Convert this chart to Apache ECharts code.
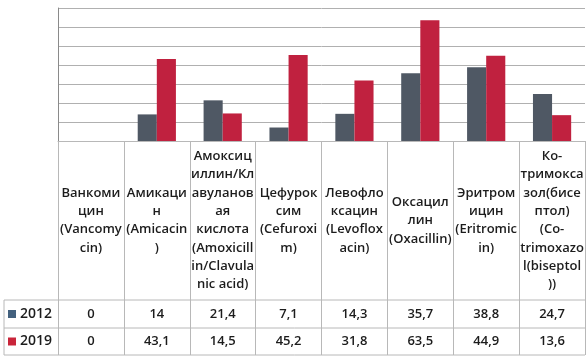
<!DOCTYPE html>
<html><head><meta charset="utf-8">
<script src="https://cdn.jsdelivr.net/npm/echarts@6/dist/echarts.min.js"></script>
<style>html,body{margin:0;padding:0;background:#fff}#c{width:587px;height:361px}</style>
</head><body><div id="c"></div>
<script>
const categories = [
  "Ванкоми\nцин\n(Vancomy\ncin)",
  "Амикаци\nн\n(Amicacin\n)",
  "Амоксиц\nиллин/Кл\nавуланов\nая\nкислота\n(Amoxicill\nin/Clavula\nnic acid)",
  "Цефурок\nсим\n(Cefuroxi\nm)",
  "Левофло\nксацин\n(Levoflox\nacin)",
  "Оксацил\nлин\n(Oxacillin)",
  "Эритром\nицин\n(Eritromic\nin)",
  "Ко-\nтримокса\nзол(бисе\nптол)\n(Co-\ntrimoxazo\nl(biseptol\n))"
];
const series2012 = [0, 14, 21.4, 7.1, 14.3, 35.7, 38.8, 24.7];
const series2019 = [0, 43.1, 14.5, 45.2, 31.8, 63.5, 44.9, 13.6];
const seriesNames = ["2012", "2019"];
const yMax = 70, yInterval = 10;

const fmt = v => String(v).replace('.', ',');
const FONT = '"Open Sans", sans-serif';
const TXT = '#1c1c1c';
const LINE = '#b8b8b8';
const C2012 = '#4f5864', C2019 = '#c0213f';
const K2012 = '#43617e', K2019 = '#c9253a';

const axisTop = 141, headerBottom = 300, row1Bottom = 328, row2Bottom = 355;
const gridLeft = 58, gridRight = 585;

const chart = echarts.init(document.getElementById('c'), null, {renderer: 'canvas'});
const valueAxis = (data, center) => ({
  type: 'category', gridIndex: 0, position: 'bottom', data: data.map(fmt),
  axisLine: {show: false}, axisTick: {show: false}, splitLine: {show: false},
  axisLabel: {interval: 0, margin: center - axisTop, verticalAlign: 'middle',
    fontFamily: FONT, fontSize: 13, fontWeight: 600, color: TXT}
});
chart.setOption({
  animation: false,
  grid: {left: gridLeft, right: 587 - gridRight, top: 8, bottom: 361 - axisTop, containLabel: false},
  xAxis: [
    {type: 'category', data: categories, position: 'bottom',
      axisLine: {show: true, lineStyle: {color: LINE, width: 1}},
      axisTick: {show: true, length: row2Bottom - axisTop, lineStyle: {color: LINE}},
      axisLabel: {interval: 0, margin: (headerBottom + axisTop) / 2 - axisTop, verticalAlign: 'middle',
        fontFamily: FONT, fontSize: 13, fontWeight: 600, color: TXT, lineHeight: 18.3, align: 'center'}},
    valueAxis(series2012, (headerBottom + row1Bottom) / 2),
    valueAxis(series2019, (row1Bottom + row2Bottom) / 2)
  ],
  yAxis: {type: 'value', min: 0, max: yMax, interval: yInterval,
    axisLine: {show: true, lineStyle: {color: '#8a8a8a'}}, axisTick: {show: false},
    axisLabel: {show: false}, splitLine: {lineStyle: {color: '#b0b0b0'}}},
  series: [
    {name: seriesNames[0], type: 'bar', data: series2012, barGap: '0%', barCategoryGap: '42%',
      itemStyle: {color: C2012}},
    {name: seriesNames[1], type: 'bar', data: series2019, barGap: '0%', barCategoryGap: '42%',
      itemStyle: {color: C2019}}
  ],
  graphic: [
    {type: 'line', shape: {x1: gridLeft, y1: headerBottom, x2: gridRight, y2: headerBottom}, style: {stroke: LINE}},
    {type: 'line', shape: {x1: 4, y1: headerBottom, x2: gridLeft, y2: headerBottom}, style: {stroke: LINE}},
    {type: 'line', shape: {x1: 4, y1: row1Bottom, x2: gridRight, y2: row1Bottom}, style: {stroke: LINE}},
    {type: 'line', shape: {x1: 4, y1: row2Bottom, x2: gridRight, y2: row2Bottom}, style: {stroke: LINE}},
    {type: 'line', shape: {x1: 4, y1: headerBottom, x2: 4, y2: row2Bottom}, style: {stroke: LINE}},
    {type: 'rect', shape: {x: 8, y: (headerBottom + row1Bottom) / 2 - 4, width: 8, height: 8}, style: {fill: K2012}},
    {type: 'rect', shape: {x: 8, y: (row1Bottom + row2Bottom) / 2 - 4, width: 8, height: 8}, style: {fill: K2019}},
    {type: 'text', x: 20, y: (headerBottom + row1Bottom) / 2, style: {text: seriesNames[0], font: '600 14px ' + FONT, fill: TXT, verticalAlign: 'middle'}},
    {type: 'text', x: 20, y: (row1Bottom + row2Bottom) / 2, style: {text: seriesNames[1], font: '600 14px ' + FONT, fill: TXT, verticalAlign: 'middle'}}
  ]
});
</script></body></html>
